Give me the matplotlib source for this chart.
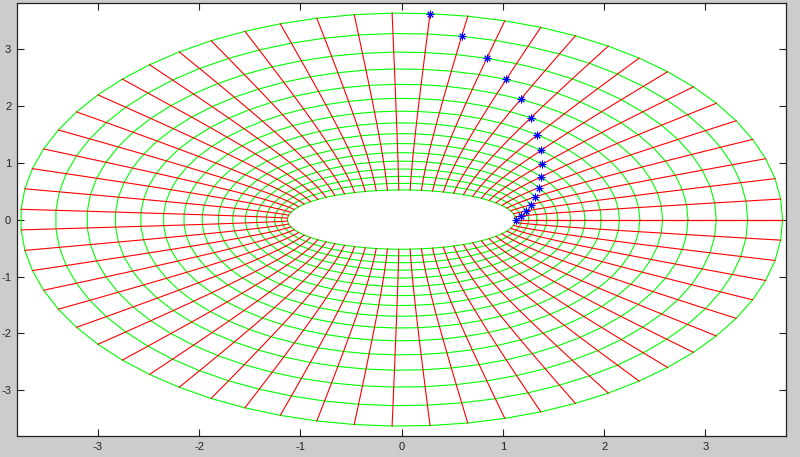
import matplotlib
matplotlib.use('Agg')

import numpy as np
import matplotlib.pyplot as plt

# ring levels (u) of the elliptic grid w = cosh(u + i*v)
u_levels = [0.5, 0.6, 0.7, 0.8, 0.9, 1.0, 1.1, 1.2,
            1.3, 1.4, 1.5, 1.6, 1.7, 1.8, 1.9, 2.0]
# number of angle samples around 0..2*pi
n_angles = 64
# star k sits on ring k at angle index k
star_idx = list(range(16))
ticks = [-3, -2, -1, 0, 1, 2, 3]

plt.rcParams['axes.unicode_minus'] = False
plt.rcParams['font.family'] = ['Liberation Sans', 'DejaVu Sans']

v = np.linspace(0, 2 * np.pi, n_angles)
U, V = np.meshgrid(np.array(u_levels), v)
W = np.cosh(U + 1j * V)
X, Y = W.real, W.imag

fig = plt.figure(figsize=(8, 4.57), dpi=100, facecolor='#cccccc')
ax = fig.add_axes([0.021, 0.046, 0.962, 0.947])
ax.set_facecolor('white')

# ellipses (green)
for j in range(X.shape[1]):
    ax.plot(X[:, j], Y[:, j], color='#00ff00', linewidth=0.8)
# hyperbola pieces (red)
for i in range(X.shape[0]):
    ax.plot(X[i, :], Y[i, :], color='#ff0000', linewidth=0.8)

# blue asterisks along the diagonal of the grid
sx = [X[k, k] for k in star_idx]
sy = [Y[k, k] for k in star_idx]
ax.plot(sx, sy, linestyle='none', marker=(8, 2, 0), markersize=5.5,
        markeredgewidth=0.7, color='#0000ff')

ax.set_xlim(-3.8, 3.8)
ax.set_ylim(-3.8, 3.8)
ax.set_xticks(ticks)
ax.set_yticks(ticks)
ax.tick_params(direction='in', top=True, right=True, length=5, width=0.8,
               labelsize=8, pad=4, colors='#222222')
for s in ax.spines.values():
    s.set_linewidth(0.9)
    s.set_color('#222222')

fig.savefig('out.png', dpi=100, facecolor=fig.get_facecolor())
